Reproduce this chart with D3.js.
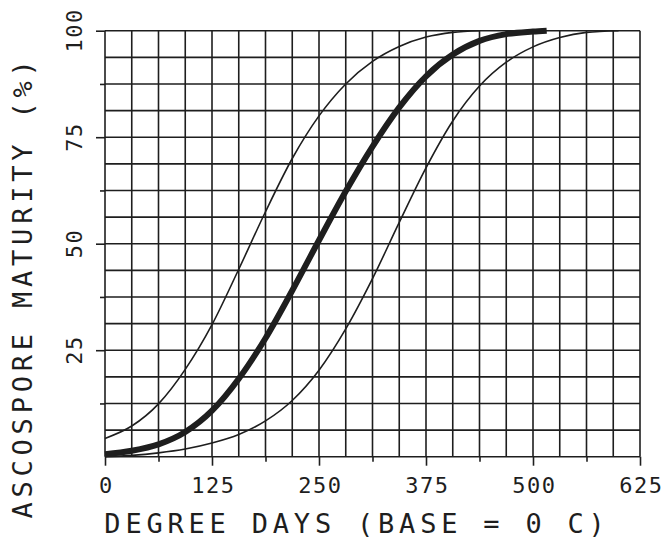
<!DOCTYPE html>
<html>
<head>
<meta charset="utf-8">
<script src="https://cdn.jsdelivr.net/npm/d3@7"></script>
<style>
  body { margin: 0; background: #fff; }
  text { font-family: "DejaVu Sans Mono", monospace; fill: #1e1e1e; }
</style>
</head>
<body>
<div id="chart"></div>
<script>
// degree days at which each curve was read (grid steps of 31.25)
var earlyDD  = [0, 31.25, 62.5, 93.75, 125, 156.25, 187.5, 218.75, 250, 281.25, 312.5, 343.75, 375, 406.25, 437.5]
var earlyPct = [4.3, 7.2, 12.4, 20.5, 31.0, 44.0, 57.5, 70.0, 80.0, 87.5, 92.8, 96.3, 98.5, 99.6, 100]

var meanDD  = [0, 31.25, 62.5, 93.75, 125, 156.25, 187.5, 218.75, 250, 281.25, 312.5, 343.75, 375, 406.25, 437.5, 468.75, 500, 516]
var meanPct = [0.6, 1.4, 2.9, 5.8, 10.8, 18.3, 27.8, 39.0, 50.8, 62.3, 72.8, 82.0, 89.3, 94.4, 97.6, 99.2, 99.8, 100]

var lateDD  = [0, 31.25, 62.5, 93.75, 125, 156.25, 187.5, 218.75, 250, 281.25, 312.5, 343.75, 375, 406.25, 437.5, 468.75, 500, 531.25, 562.5, 600]
var latePct = [0, 0.3, 0.9, 1.8, 3.2, 5.2, 8.4, 13.2, 20.3, 30.0, 41.8, 55.0, 67.8, 78.8, 87.0, 92.6, 96.2, 98.4, 99.6, 100]

var xTickLabels = [0, 125, 250, 375, 500, 625]
var yTickLabels = [25, 50, 75, 100]

var width = 665
var height = 540

var svg = d3.select("#chart").append("svg")
	.attr("width", width)
	.attr("height", height)

var xScale = d3.scaleLinear().domain([0, 625]).range([105, 640])
var yScale = d3.scaleLinear().domain([0, 100]).range([456.7, 30.7])

var ink = "#1e1e1e"

// grid every 31.25 degree days and every 6.25 %
var grid = svg.append("g").attr("class", "grid")
grid.selectAll(".vline")
	.data(d3.range(0, 625.01, 31.25))
	.enter().append("line")
	.attr("x1", function(d) { return xScale(d) })
	.attr("x2", function(d) { return xScale(d) })
	.attr("y1", yScale(0))
	.attr("y2", yScale(100))
	.attr("stroke", ink)
	.attr("stroke-width", 1.6)
grid.selectAll(".hline")
	.data(d3.range(0, 100.01, 6.25))
	.enter().append("line")
	.attr("x1", xScale(0))
	.attr("x2", xScale(625))
	.attr("y1", function(d) { return yScale(d) })
	.attr("y2", function(d) { return yScale(d) })
	.attr("stroke", ink)
	.attr("stroke-width", 1.6)

// x axis: short ticks every 62.5, long ticks with labels every 125
var xMinor = svg.append("g")
	.attr("transform", "translate(0," + yScale(0) + ")")
	.call(d3.axisBottom(xScale).tickValues(d3.range(62.5, 625, 125)).tickSize(5).tickFormat(""))
var xMajor = svg.append("g")
	.attr("transform", "translate(0," + yScale(0) + ")")
	.call(d3.axisBottom(xScale).tickValues(xTickLabels).tickSize(9))
xMajor.selectAll("text")
	.attr("y", 36)
	.attr("dy", 0)
	.attr("dx", 0.8)
	.attr("font-size", 22)
	.attr("letter-spacing", 1.5)
	.attr("fill", ink)

// y axis
var yMinor = svg.append("g")
	.attr("transform", "translate(" + xScale(0) + ",0)")
	.call(d3.axisLeft(yScale).tickValues(d3.range(12.5, 100, 25)).tickSize(5).tickFormat(""))
var yMajor = svg.append("g")
	.attr("transform", "translate(" + xScale(0) + ",0)")
	.call(d3.axisLeft(yScale).tickValues(yTickLabels).tickSize(9))
yMajor.selectAll("text")
	.attr("transform", "rotate(-90)")
	.attr("x", 0.8)
	.attr("y", -23)
	.attr("dy", 0)
	.attr("text-anchor", "middle")
	.attr("font-size", 22)
	.attr("letter-spacing", 1.5)
	.attr("fill", ink)

svg.selectAll(".domain").remove()
svg.selectAll(".tick line").attr("stroke", ink).attr("stroke-width", 1.6)

// curves
var line = d3.line()
	.x(function(d) { return xScale(d[0]) })
	.y(function(d) { return yScale(d[1]) })
	.curve(d3.curveMonotoneX)

svg.append("path")
	.datum(d3.zip(earlyDD, earlyPct))
	.attr("d", line)
	.attr("fill", "none")
	.attr("stroke", ink)
	.attr("stroke-width", 1.6)

svg.append("path")
	.datum(d3.zip(lateDD, latePct))
	.attr("d", line)
	.attr("fill", "none")
	.attr("stroke", ink)
	.attr("stroke-width", 1.6)

svg.append("path")
	.datum(d3.zip(meanDD, meanPct))
	.attr("d", line)
	.attr("fill", "none")
	.attr("stroke", ink)
	.attr("stroke-width", 6)

// titles
svg.append("text")
	.attr("x", 357)
	.attr("y", 533)
	.attr("text-anchor", "middle")
	.attr("font-size", 27)
	.attr("letter-spacing", 4.8)
	.text("DEGREE DAYS (BASE = 0 C)")

svg.append("text")
	.attr("transform", "translate(32," + 287 + ") rotate(-90)")
	.attr("text-anchor", "middle")
	.attr("font-size", 27)
	.attr("letter-spacing", 4.8)
	.text("ASCOSPORE MATURITY (%)")
</script>
</body>
</html>
